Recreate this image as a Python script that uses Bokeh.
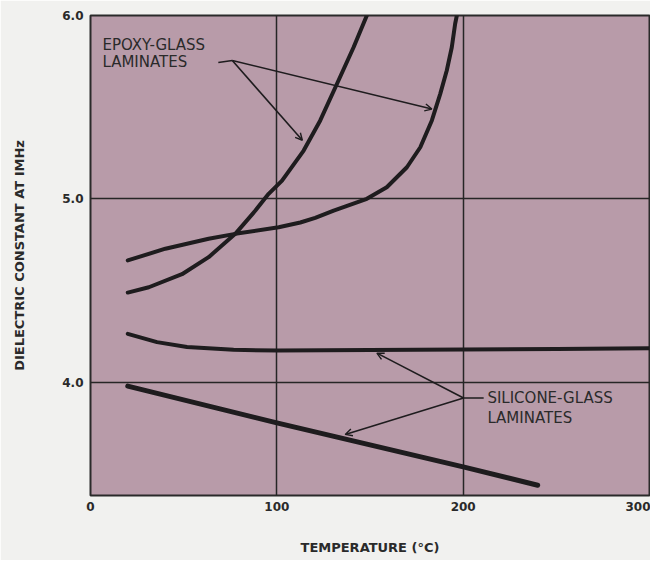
from bokeh.plotting import figure
from bokeh.models import Range1d, FixedTicker, Label, Arrow, OpenHead
from bokeh.embed import file_html
from bokeh.resources import INLINE

# ---- data ----
x_ticks = [0, 100, 200, 300]
y_ticks = [4.0, 5.0, 6.0]

epoxy_a_temp = [20, 31.3, 49.1, 63.4, 77.7, 88.5, 95.6, 102.8, 114.4, 123.3, 132.3, 141.2, 148.3]
epoxy_a_val = [4.49, 4.519, 4.59, 4.683, 4.81, 4.937, 5.028, 5.10, 5.264, 5.428, 5.628, 5.827, 6.0]

epoxy_b_temp = [20, 40.2, 63.4, 77.7, 101, 112.6, 120.6, 130.5, 148.3, 159, 169.8, 177,
                183.2, 187.7, 191.2, 193.9, 195.7, 196.6]
epoxy_b_val = [4.665, 4.729, 4.783, 4.81, 4.846, 4.872, 4.897, 4.937, 5.001, 5.064, 5.173, 5.282,
               5.428, 5.573, 5.70, 5.827, 5.955, 6.0]

silicone_a_temp = [20, 35.7, 51.8, 76.8, 100.6, 150, 200, 250, 300]
silicone_a_val = [4.265, 4.22, 4.193, 4.178, 4.174, 4.177, 4.18, 4.183, 4.186]

silicone_b_temp = [20, 100, 200, 240]
silicone_b_val = [3.98, 3.78, 3.54, 3.44]

# annotation anchors (data units)
epoxy_label_xy = (6.4, 5.837, 5.744)
epoxy_leader = [(68.6, 5.744), (76.1, 5.755)]
epoxy_arrow_tips = [(113.7, 5.32), (183.2, 5.49)]

silicone_label_xy = (213.0, 3.918, 3.809)
silicone_leader = [(211.0, 3.915), (200.2, 3.915)]
silicone_arrow_tips = [(153.7, 4.16), (136.7, 3.717)]

INK = "#1e1c1e"
TXT = "#2a2a2a"
BG = "#b89ba9"
PAGE = "#f1f1ef"

p = figure(width=650, height=560, x_range=Range1d(0, 300), y_range=Range1d(3.384, 6.0),
           output_backend="svg", toolbar_location=None,
           min_border_left=90, min_border_right=1, min_border_top=15, min_border_bottom=65)

p.background_fill_color = BG
p.border_fill_color = PAGE
p.outline_line_color = "#2a2a2a"
p.outline_line_width = 2

p.xaxis.ticker = FixedTicker(ticks=x_ticks)
p.yaxis.ticker = FixedTicker(ticks=y_ticks)
p.xaxis.major_label_overrides = {0: "0", 100: "100", 200: "200", 300: "300"}
p.yaxis.major_label_overrides = {4: "4.0", 5: "5.0", 6: "6.0"}
for ax in (p.xaxis, p.yaxis):
    ax.axis_line_color = None
    ax.major_tick_line_color = None
    ax.minor_tick_line_color = None
    ax.major_tick_out = 0
    ax.major_tick_in = 0
    ax.minor_tick_out = 0
    ax.minor_tick_in = 0
    ax.major_label_text_font = "DejaVu Sans"
    ax.major_label_text_font_style = "bold"
    ax.major_label_text_font_size = "12px"
    ax.major_label_text_color = TXT
    ax.axis_label_text_font = "DejaVu Sans"
    ax.axis_label_text_font_style = "bold"
    ax.axis_label_text_font_size = "13px"
    ax.axis_label_text_color = TXT
p.xaxis.major_label_standoff = 6
p.yaxis.major_label_standoff = 7
p.xaxis.axis_label = "TEMPERATURE (°C)"
p.yaxis.axis_label = "DIELECTRIC CONSTANT AT IMHz"
p.xaxis.axis_label_standoff = 26
p.yaxis.axis_label_standoff = 32

p.xgrid.ticker = FixedTicker(ticks=x_ticks)
p.ygrid.ticker = FixedTicker(ticks=y_ticks)
for g in (p.xgrid, p.ygrid):
    g.grid_line_color = "#262626"
    g.grid_line_width = 1.5

p.line(epoxy_a_temp, epoxy_a_val, line_color=INK, line_width=4, line_cap="round", line_join="round")
p.line(epoxy_b_temp, epoxy_b_val, line_color=INK, line_width=4, line_cap="round", line_join="round")
p.line(silicone_a_temp, silicone_a_val, line_color=INK, line_width=4, line_cap="round", line_join="round")
p.line(silicone_b_temp, silicone_b_val, line_color=INK, line_width=5, line_cap="round", line_join="round")

# leaders and arrows
p.line([pt[0] for pt in epoxy_leader], [pt[1] for pt in epoxy_leader], line_color=INK, line_width=1.6)
for tx, ty in epoxy_arrow_tips:
    p.add_layout(Arrow(end=OpenHead(size=7, line_width=1.4, line_color=INK),
                       x_start=epoxy_leader[1][0], y_start=epoxy_leader[1][1], x_end=tx, y_end=ty,
                       line_color=INK, line_width=1.6))

p.line([pt[0] for pt in silicone_leader], [pt[1] for pt in silicone_leader], line_color=INK, line_width=1.6)
for tx, ty in silicone_arrow_tips:
    p.add_layout(Arrow(end=OpenHead(size=7, line_width=1.4, line_color=INK),
                       x_start=silicone_leader[1][0], y_start=silicone_leader[1][1], x_end=tx, y_end=ty,
                       line_color=INK, line_width=1.6))

def lab(x, y, t):
    p.add_layout(Label(x=x, y=y, text=t, text_font="DejaVu Sans", text_font_size="15px",
                       text_color=TXT, text_baseline="middle", text_align="left"))

lab(epoxy_label_xy[0], epoxy_label_xy[1], "EPOXY-GLASS")
lab(epoxy_label_xy[0], epoxy_label_xy[2], "LAMINATES")
lab(silicone_label_xy[0], silicone_label_xy[1], "SILICONE-GLASS")
lab(silicone_label_xy[0], silicone_label_xy[2], "LAMINATES")

open("out.html", "w").write(file_html(p, INLINE))
